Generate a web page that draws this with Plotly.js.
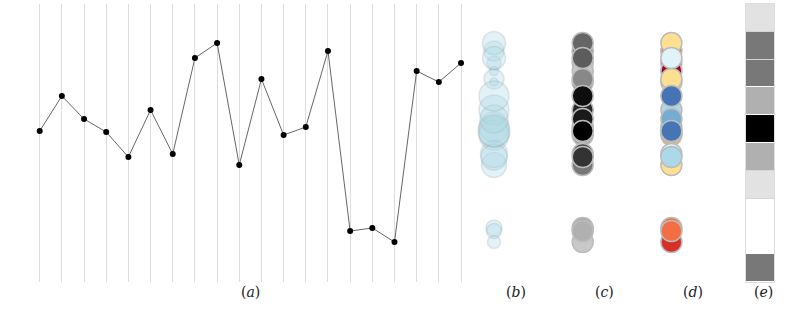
<!DOCTYPE html>
<html>
<head>
<meta charset="utf-8">
<script src="https://cdn.plot.ly/plotly-3.0.1.min.js"></script>
<style>html,body{margin:0;padding:0;background:#fff;}#chart{width:789px;height:322px;}</style>
</head>
<body>
<div id="chart"></div>
<script>
// 20 observations (index 1..20)
var idx = [1,2,3,4,5,6,7,8,9,10,11,12,13,14,15,16,17,18,19,20];
var values = [151,186,163,150,125,172,128,224,239,117,203,147,155,231,51,54,40,211,200,219];
// (b) size encoding (marker diameter, px)
var sizeB = [32,30,28,30,26,30,27,23,23,25,20,30,30,20,15,16,13,9,8,14];
// (c) grey-level encoding
var greyC = ['#000000','#0d0d0d','#1a1a1a','#222222','#333333','#262626','#444444','#5c5c5c','#666666','#777777',
             '#888888','#999999','#222222','#888888','#b0b0b0','#aaaaaa','#c8c8c8','#c8c8c8','#555555','#c8c8c8'];
// (d) diverging colour encoding
var colorD = ['#4575b4','#4575b4','#74add1','#4575b4','#abd9e9','#abd9e9','#e0f3f8','#e0f3f8','#fee090','#fee090',
              '#fee090','#fdae61','#4575b4','#f46d43','#f46d43','#f46d43','#d73027','#a50026','#fee090','#a50026'];
// (e) histogram counts, 10 bins top to bottom
var binCounts = [1,3,3,2,5,2,1,0,0,3];
var binIdx = [0,1,2,3,4,5,6,7,8,9];
var labels = ['(<i>a</i>)','(<i>b</i>)','(<i>c</i>)','(<i>d</i>)','(<i>e</i>)'];

function rev(a){ return a.slice().reverse(); }
var W = 789;

var traces = [
  {type:'scatter', mode:'lines+markers', x:idx, y:values, xaxis:'x', yaxis:'y',
   line:{color:'#666666', width:1}, marker:{color:'#000', size:6}, cliponaxis:false, hoverinfo:'none'},
  {type:'scatter', mode:'markers', x:values.map(function(){return 1;}), y:rev(values), xaxis:'x2', yaxis:'y',
   marker:{size:rev(sizeB), color:'rgba(173,216,230,0.47)', line:{color:'rgba(140,160,170,0.35)', width:1.5}},
   cliponaxis:false, hoverinfo:'none'},
  {type:'scatter', mode:'markers', x:values.map(function(){return 2;}), y:rev(values), xaxis:'x2', yaxis:'y',
   marker:{size:21, color:rev(greyC), line:{color:'#bbbbbb', width:1.5}}, cliponaxis:false, hoverinfo:'none'},
  {type:'scatter', mode:'markers', x:values.map(function(){return 3;}), y:rev(values), xaxis:'x2', yaxis:'y',
   marker:{size:21, color:rev(colorD), line:{color:'#bbbbbb', width:1.5}}, cliponaxis:false, hoverinfo:'none'},
  {type:'heatmap', x:[0], y:binIdx, z:binCounts.map(function(v){return [v];}), xaxis:'x3', yaxis:'y3',
   zmin:0, zmax:5, showscale:false, ygap:1, hoverinfo:'none',
   colorscale:[[0,'#ffffff'],[0.2,'#e2e2e2'],[0.4,'#b0b0b0'],[0.6,'#787878'],[0.8,'#3c3c3c'],[1,'#000000']]}
];

var xPos = [250, 516, 604, 693, 763];
var annotations = labels.map(function(t,i){
  return {xref:'paper', yref:'paper', x:xPos[i]/W, y:-10/278, yanchor:'middle', xanchor:'center',
          text:t, showarrow:false, font:{family:'DejaVu Serif', size:14, color:'#222'}};
});

var layout = {
  width:789, height:322, margin:{l:0, r:0, t:4, b:40},
  paper_bgcolor:'#fff', plot_bgcolor:'rgba(0,0,0,0)', showlegend:false,
  xaxis:{domain:[28.6/W, 472.1/W], range:[0.5,20.5], tickvals:idx, showticklabels:false, ticks:'',
         showgrid:true, gridcolor:'#dddddd', gridwidth:1, zeroline:false, showline:false, fixedrange:true},
  yaxis:{domain:[0,1], range:[0,278], showgrid:false, zeroline:false, showticklabels:false, ticks:'', showline:false},
  xaxis2:{domain:[449.65/W, 715.75/W], range:[0.5,3.5], anchor:'y', showgrid:false, zeroline:false,
          showticklabels:false, ticks:'', showline:false},
  xaxis3:{domain:[746/W, 774/W], range:[-0.5,0.5], anchor:'y3', showgrid:false, zeroline:false,
          showticklabels:false, ticks:'', showline:true, mirror:true, linecolor:'#dddddd', linewidth:1},
  yaxis3:{domain:[0,1], range:[9.5,-0.5], anchor:'x3', tickvals:[0.5,1.5,2.5,3.5,4.5,5.5,6.5,7.5,8.5],
          showgrid:true, gridcolor:'#d6d6d6', gridwidth:1, zeroline:false, showticklabels:false, ticks:'',
          showline:true, mirror:true, linecolor:'#dddddd', linewidth:1},
  annotations:annotations
};

Plotly.newPlot('chart', traces, layout, {staticPlot:true, displayModeBar:false});
</script>
</body>
</html>
